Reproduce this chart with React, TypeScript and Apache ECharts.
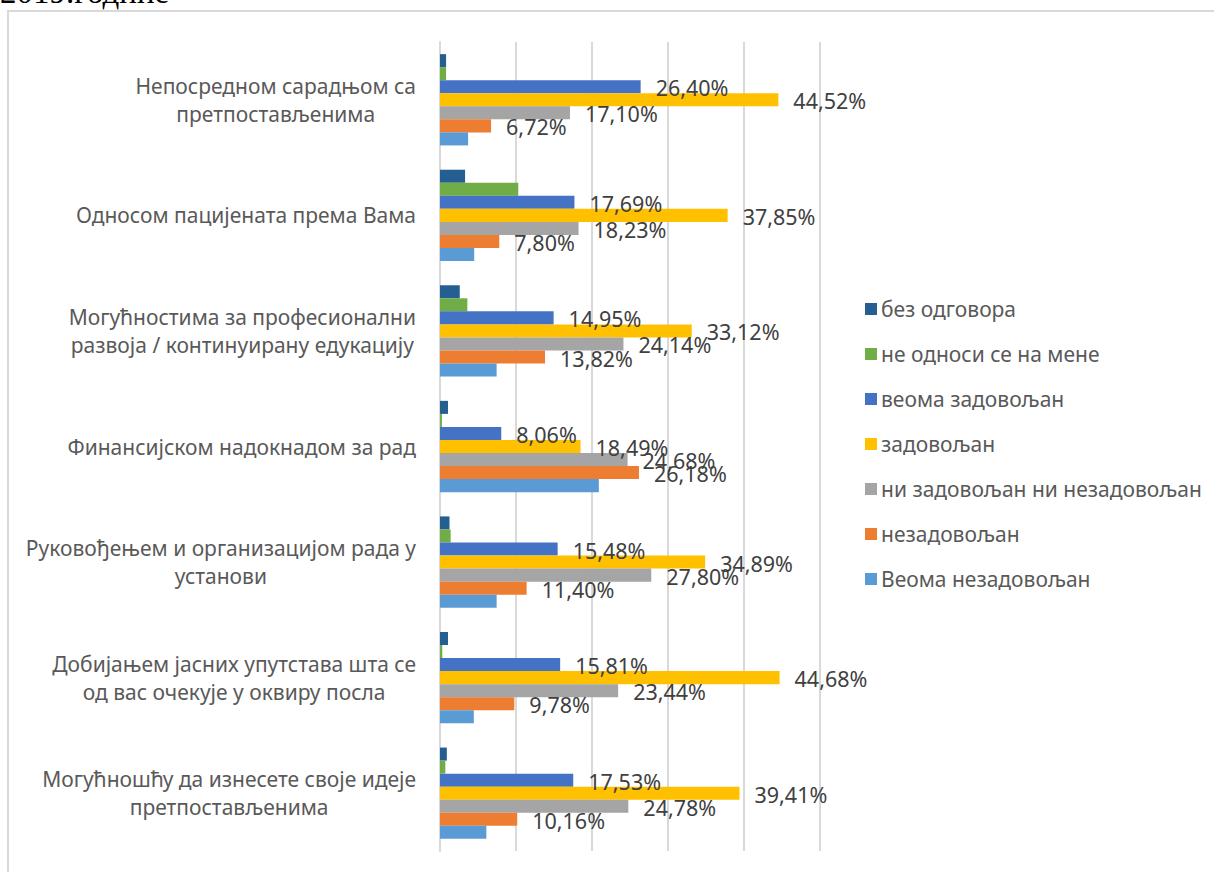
import React, { useEffect, useRef } from "react";
import * as echarts from "echarts";

const categories = [
  "Непосредном сарадњом са\nпретпостављенима",
  "Односом пацијената према Вама",
  "Могућностима за професионални\nразвоја / континуирану едукацију",
  "Финансијском надокнадом за рад",
  "Руковођењем и организацијом рада у\nустанови",
  "Добијањем јасних упутстава шта се\nод вас очекује у оквиру посла",
  "Могућношћу да изнесете своје идеје\nпретпостављенима",
];

const seriesNames = [
  "без одговора",
  "не односи се на мене",
  "веома задовољан",
  "задовољан",
  "ни задовољан ни незадовољан",
  "незадовољан",
  "Веома незадовољан",
];

const noAnswer = [0.8, 3.3, 2.6, 1.05, 1.25, 1.05, 0.9];
const notApplicable = [0.8, 10.3, 3.6, 0.25, 1.4, 0.3, 0.7];
const verySatisfied = [26.4, 17.69, 14.95, 8.06, 15.48, 15.81, 17.53];
const satisfied = [44.52, 37.85, 33.12, 18.49, 34.89, 44.68, 39.41];
const neutral = [17.1, 18.23, 24.14, 24.68, 27.8, 23.44, 24.78];
const dissatisfied = [6.72, 7.8, 13.82, 26.18, 11.4, 9.78, 10.16];
const veryDissatisfied = [3.7, 4.5, 7.45, 20.9, 7.45, 4.45, 6.1];

const seriesValues = [
  noAnswer,
  notApplicable,
  verySatisfied,
  satisfied,
  neutral,
  dissatisfied,
  veryDissatisfied,
];
const seriesColors = [
  "#255E91",
  "#70AD47",
  "#4472C4",
  "#FFC000",
  "#A5A5A5",
  "#ED7D31",
  "#5B9BD5",
];
const labelled = [false, false, true, true, true, true, false];

const FONT = "'Noto Sans', sans-serif";

export default function App() {
  const ref = useRef<HTMLDivElement>(null);
  useEffect(() => {
    if (!ref.current) return;
    const chart = echarts.init(ref.current, null, { renderer: "svg" });
    chart.setOption({
      animation: false,
      backgroundColor: "#ffffff",
      textStyle: { fontFamily: FONT },
      grid: { left: 440, top: 42, right: 394, bottom: 21, containLabel: false },
      legend: {
        orient: "vertical",
        left: 860,
        top: 293,
        itemWidth: 12,
        itemHeight: 12,
        itemGap: 23,
        icon: "rect",
        data: seriesNames,
        textStyle: {
          fontFamily: FONT,
          fontSize: 21,
          color: "#595959",
          lineHeight: 22,
          padding: [0, 0, 0, -1],
        },
      },
      xAxis: {
        type: "value",
        min: 0,
        max: 50,
        interval: 10,
        axisLabel: { show: false },
        axisLine: { show: false },
        axisTick: { show: false },
        splitLine: { show: true, lineStyle: { color: "#D9D9D9", width: 2 } },
      },
      yAxis: {
        type: "category",
        inverse: true,
        data: categories,
        axisLine: { show: true, lineStyle: { color: "#D9D9D9", width: 2 } },
        axisTick: { show: false },
        axisLabel: {
          margin: 24,
          align: "right",
          color: "#595959",
          fontFamily: FONT,
          fontSize: 21,
          lineHeight: 28,
          formatter: (v: string) =>
            v
              .split("\n")
              .map((l) => "{c|" + l + "}")
              .join("\n"),
          rich: {
            c: {
              align: "center",
              color: "#595959",
              fontFamily: FONT,
              fontSize: 21,
              lineHeight: 28,
            },
          },
        },
      },
      series: seriesNames.map((name, i) => ({
        name,
        type: "bar",
        data: seriesValues[i],
        barGap: "0%",
        barCategoryGap: "21%",
        itemStyle: { color: seriesColors[i] },
        label: {
          show: labelled[i],
          position: "right",
          distance: 15,
          offset: [0, 1],
          color: "#404040",
          fontFamily: FONT,
          fontSize: 21.5,
          formatter: (p: any) => p.value.toFixed(2).replace(".", ",") + "%",
        },
      })),
      graphic: [
        {
          type: "rect",
          shape: { x: 8, y: 11, width: 1230, height: 900 },
          style: { fill: "none", stroke: "#D9D9D9", lineWidth: 2 },
          silent: true,
          z: -1,
        },
        {
          type: "text",
          x: 0,
          y: 8,
          style: {
            text: "2019.године",
            fontFamily: "'Liberation Serif', 'DejaVu Serif', serif",
            fontSize: 33,
            fill: "#000000",
            verticalAlign: "bottom",
          },
        },
      ],
    });
    return () => chart.dispose();
  }, []);
  return (
    <div
      ref={ref}
      style={{ position: "fixed", left: 0, top: 0, width: 1214, height: 872 }}
    />
  );
}
